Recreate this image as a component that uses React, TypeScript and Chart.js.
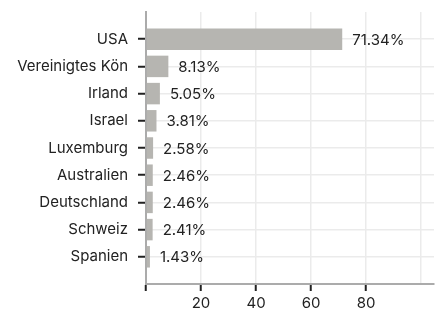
import React, { useEffect, useRef } from "react";
import { Chart, registerables } from "chart.js";

Chart.register(...registerables);

const categories = [
  "USA",
  "Vereinigtes Kön",
  "Irland",
  "Israel",
  "Luxemburg",
  "Australien",
  "Deutschland",
  "Schweiz",
  "Spanien",
];
const values = [71.34, 8.13, 5.05, 3.81, 2.58, 2.46, 2.46, 2.41, 1.43];
const xTicks = [0, 20, 40, 60, 80, 100];
const xLabels = ["", "20", "40", "60", "80", ""];

const FONT = "Inter";
const TEXT = "#222222";

const valueLabels = {
  id: "valueLabels",
  afterDatasetsDraw(chart: any) {
    const ctx = chart.ctx;
    const meta = chart.getDatasetMeta(0);
    ctx.save();
    ctx.font = `15px ${FONT}`;
    ctx.fillStyle = TEXT;
    ctx.textAlign = "left";
    ctx.textBaseline = "middle";
    meta.data.forEach((bar: any, i: number) => {
      ctx.fillText(values[i].toFixed(2) + "%", bar.x + 10, bar.y + 1);
    });
    ctx.restore();
  },
};

export default function App() {
  const ref = useRef<HTMLCanvasElement>(null);
  useEffect(() => {
    document.body.style.margin = "0";
    const chart = new Chart(ref.current!, {
      type: "bar",
      data: {
        datasets: [
          {
            data: values.map((v, i) => ({ x: v, y: i })) as any,
            backgroundColor: "#b6b5b1",
            borderWidth: 0,
            barPercentage: 1,
            categoryPercentage: 0.79,
          },
        ],
      },
      plugins: [valueLabels],
      options: {
        indexAxis: "y",
        animation: false,
        responsive: false,
        maintainAspectRatio: false,
        layout: { padding: { top: 12, right: 7, left: 0, bottom: 0 } },
        plugins: { legend: { display: false }, tooltip: { enabled: false } },
        scales: {
          x: {
            type: "linear",
            min: 0,
            max: 104.7,
            afterBuildTicks: (s: any) => {
              s.ticks = xTicks.map((v) => ({ value: v }));
            },
            afterFit: (s: any) => {
              s.height = 29;
            },
            border: { color: "#ababab", width: 2 },
            grid: {
              color: (c: any) => (c.tick && c.tick.value === 0 ? "rgba(0,0,0,0)" : "#ebebeb"),
              lineWidth: 1.5,
              tickLength: 7,
              tickWidth: 2,
              tickColor: (c: any) => (c.tick && c.tick.value === 100 ? "rgba(0,0,0,0)" : TEXT),
            },
            ticks: {
              autoSkip: false,
              maxRotation: 0,
              padding: 3,
              color: TEXT,
              font: { family: FONT, size: 15 },
              callback: (_v: any, i: number) => xLabels[i],
            },
          },
          y: {
            type: "linear",
            min: -1,
            max: 9,
            reverse: true,
            offset: false,
            afterBuildTicks: (s: any) => {
              s.ticks = categories.map((_, i) => ({ value: i }));
            },
            afterFit: (s: any) => {
              s.width = 146;
              s.paddingTop = 0;
              s.paddingBottom = 0;
            },
            border: { color: "#ababab", width: 2 },
            grid: {
              offset: false,
              color: "#ebebeb",
              lineWidth: 1.5,
              tickLength: 8,
              tickWidth: 2,
              tickColor: TEXT,
            },
            ticks: {
              autoSkip: false,
              padding: 10,
              color: TEXT,
              font: { family: FONT, size: 15 },
              callback: (v: any) => categories[v as number] ?? "",
            },
          },
        },
      },
    });
    return () => chart.destroy();
  }, []);
  return (
    <div style={{ position: "absolute", left: 0, top: 0, width: 441, height: 313 }}>
      <canvas ref={ref} width={441} height={313} style={{ width: 441, height: 313 }} />
    </div>
  );
}
